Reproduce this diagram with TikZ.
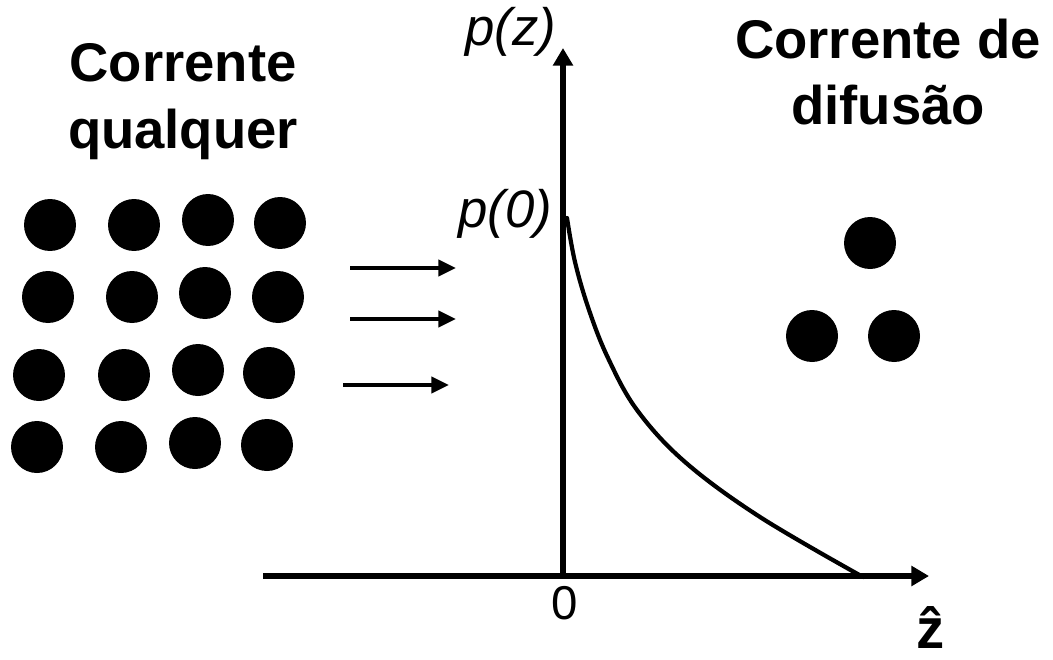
\documentclass[tikz,border=0pt]{standalone}
\usepackage{fontspec}
\setmainfont{Liberation Sans}
\usetikzlibrary{arrows.meta}

\tikzset{
    dot/.style={circle, fill=black, inner sep=0pt, minimum size=1.04cm},
    axis/.style={line width=3pt, -{Triangle[length=10pt, width=11pt]}},
    flow/.style={line width=2.4pt, -{Triangle[length=10pt, width=9pt]}},
    title/.style={font=\fontsize{31}{38}\selectfont\bfseries, align=center},
    axlabel/.style={font=\fontsize{27}{32}\selectfont},
    italabel/.style={font=\fontsize{30}{36}\selectfont\itshape}
}

\begin{document}
\begin{tikzpicture}[x=0.02cm, y=-0.02cm]
        \useasboundingbox (0,0) rectangle (1053,659);
        % Below nodes are the titles.
            \node[title] (left) at (183,102) {Corrente\\qualquer};
            \node[title] (right) at (888,72) {Corrente de\\difus\~ao};
        % Particles on the left side.
        \foreach \x/\y [count=\i] in {50/225, 134/225, 208/220, 280/223,
                                     48/297, 132/297, 205/293, 278/297,
                                     39/375, 124/375, 198/370, 269/373,
                                     37/447, 121/447, 195/443, 267/445}
            \node[dot] (l\i) at (\x,\y) {};
        % Particles on the right side.
            \node[dot] (r1) at (870,243) {};
            \node[dot] (r2) at (812,336) {};
            \node[dot] (r3) at (894,336) {};
        % The three arrows.
            \coordinate (a1) at (350,268); \coordinate (b1) at (456,268);
            \coordinate (a2) at (350,319); \coordinate (b2) at (456,319);
            \coordinate (a3) at (343,385); \coordinate (b3) at (449,385);
            \draw[flow] (a1) -- (b1);
            \draw[flow] (a2) -- (b2);
            \draw[flow] (a3) -- (b3);
        % Axes.
            \coordinate (O) at (563,576);
            \coordinate (xs) at (263,576);
            \coordinate (xe) at (929,576);
            \coordinate (ye) at (563,48);
            \draw[axis] (xs) -- (xe);
            \draw[axis] (O) -- (ye);
        % This draws the profile.
            \draw[line width=2.4pt, line cap=round] plot[smooth, tension=0.6] coordinates
                {(567,218) (575,262) (589,310) (608,358) (637,410) (685,462) (760,517) (863,577)};
        % Axis labels.
            \node[italabel] (pz) at (511,32) {p(z)};
            \node[italabel] (p0) at (505,214) {p(0)};
            \node[axlabel] (zero) at (565,603) {0};
            \node[font=\fontsize{32}{38}\selectfont\bfseries, inner sep=0pt, anchor=base] (zhat) at (931,648) {\^z};
    \end{tikzpicture}
\end{document}
